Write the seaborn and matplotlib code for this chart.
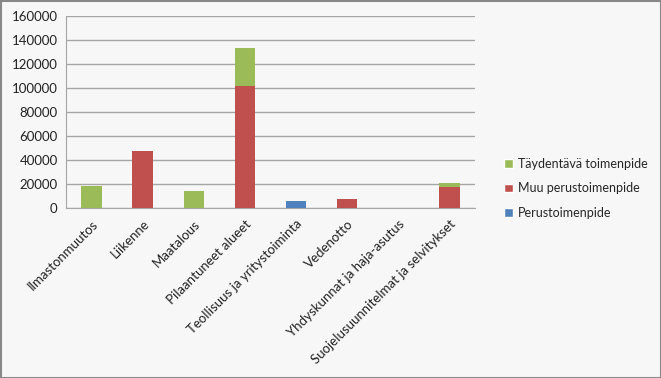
import matplotlib
matplotlib.use("Agg")
import matplotlib.pyplot as plt
import seaborn as sns
import pandas as pd
import numpy as np
from matplotlib.patches import Patch, Rectangle

categories = ["Ilmastonmuutos", "Liikenne", "Maatalous", "Pilaantuneet alueet",
              "Teollisuus ja yritystoiminta", "Vedenotto", "Yhdyskunnat ja haja-asutus",
              "Suojelusuunnitelmat ja selvitykset"]
perus = [0, 0, 0, 0, 5800, 0, 0, 0]
muu = [0, 47700, 0, 101500, 0, 7500, 0, 17700]
taydentava = [18500, 0, 14100, 31600, 0, 0, 0, 2800]
series_names = ["Perustoimenpide", "Muu perustoimenpide", "Täydentävä toimenpide"]
colors = ["#4F81BD", "#C0504D", "#9BBB59"]
yticks = [0, 20000, 40000, 60000, 80000, 100000, 120000, 140000, 160000]

sns.set_style("white")
plt.rcParams["font.family"] = ["Lato", "DejaVu Sans"]

fig = plt.figure(figsize=(6.61, 3.78), dpi=100)
fig.patch.set_facecolor("#F7F7F7")
ax = fig.add_axes([66/661, (378-208)/378, (475-66)/661, (208-16)/378])
ax.set_facecolor("#F7F7F7")

p = np.array(perus); m = np.array(muu); t = np.array(taydentava)
layers = [p + m + t, p + m, p]
layer_colors = [colors[2], colors[1], colors[0]]
for vals, c in zip(layers, layer_colors):
    df = pd.DataFrame({"cat": categories, "val": vals})
    sns.barplot(data=df, x="cat", y="val", color=c, width=0.4, ax=ax,
                saturation=1, edgecolor="none", linewidth=0, zorder=3)

ax.set_ylim(0, 160000)
ax.set_xlim(-0.5, len(categories) - 0.5)
ax.set_yticks(yticks)
ax.set_yticklabels([str(v) for v in yticks], fontsize=9.5, color="#222222")
ax.yaxis.grid(True, color="#A6A6A6", linewidth=1, zorder=0)
ax.set_axisbelow(True)
ax.set_xlabel("")
ax.set_ylabel("")
ax.set_xticks(range(len(categories)))
ax.set_xticklabels(categories, rotation=45, ha="right", rotation_mode="anchor",
                   fontsize=9.5, color="#222222")
ax.tick_params(axis="x", length=0, pad=7)
ax.tick_params(axis="y", length=4, color="#A6A6A6", pad=2)
ax.set_xticks(np.arange(-0.5, len(categories)), minor=True)
ax.tick_params(axis="x", which="minor", length=4, color="#A6A6A6", direction="out")
for s in ["top", "right"]:
    ax.spines[s].set_visible(False)
ax.spines["left"].set_color("#A6A6A6")
ax.spines["bottom"].set_color("#A6A6A6")

handles = [Patch(facecolor=colors[2], label=series_names[2]),
           Patch(facecolor=colors[1], label=series_names[1]),
           Patch(facecolor=colors[0], label=series_names[0])]
leg = fig.legend(handles=handles, loc="center left", bbox_to_anchor=(493/661, 1 - 188.5/378),
                 frameon=False, fontsize=9, handlelength=0.7, handleheight=0.7,
                 handletextpad=0.4, labelspacing=1.0)

fig.patches.append(Rectangle((0.5/661, 0.5/378), 1 - 1/661, 1 - 1/378, transform=fig.transFigure,
                             fill=False, edgecolor="#888888", linewidth=1.5))
fig.savefig("out.png", dpi=100, facecolor=fig.get_facecolor())
